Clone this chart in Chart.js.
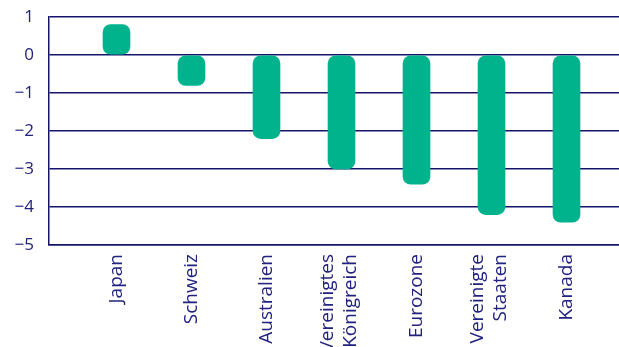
<!DOCTYPE html>
<html>
<head>
<meta charset="utf-8">
<script src="https://cdn.jsdelivr.net/npm/chart.js@4"></script>
<style>
  html, body { margin: 0; padding: 0; background: #fff; }
  #wrap { width: 619px; height: 347px; }
</style>
</head>
<body>
<div id="wrap"><canvas id="myChart" width="619" height="347"></canvas></div>
<script>
var categories = ['Japan', 'Schweiz', 'Australien', ['Vereinigtes', 'Königreich'], 'Eurozone', ['Vereinigte', 'Staaten'], 'Kanada'];
var values = [0.8, -0.8, -2.2, -3.0, -3.4, -4.2, -4.4];
var yTicks = [1, 0, -1, -2, -3, -4, -5];

var navy = '#14146a';
var textNavy = '#22227f';
var green = '#00b38d';

var points = values.map(function(v, i) { return { x: i, y: v }; });

var ctx = document.getElementById('myChart');
var myChart = new Chart(ctx, {
  type: 'bar',
  data: {
    datasets: [{
      data: points,
      backgroundColor: green,
      borderWidth: 0,
      borderRadius: 8,
      borderSkipped: false,
      barThickness: 27
    }]
  },
  options: {
    responsive: false,
    animation: false,
    layout: { padding: { top: 17, right: 0, left: 0, bottom: 0 } },
    plugins: { legend: { display: false }, tooltip: { enabled: false } },
    scales: {
      x: {
        type: 'linear',
        offset: false,
        min: -0.9,
        max: 6.7,
        grid: { display: false, drawTicks: false, offset: false },
        border: { display: true, color: navy, width: 1.5 },
        afterBuildTicks: function(axis) {
          // two-line labels stack to the right, so pull them back to centre
          axis.ticks = categories.map(function(c, i) {
            return { value: Array.isArray(c) ? i - 0.18 : i };
          });
        },
        afterFit: function(axis) {
          axis.height = 102;
          axis.paddingLeft = 0;
          axis.paddingRight = 0;
        },
        ticks: {
          autoSkip: false,
          minRotation: 90,
          maxRotation: 90,
          padding: 9,
          color: textNavy,
          font: { family: 'Open Sans', size: 19 },
          callback: function(v) { return categories[Math.round(v)]; }
        }
      },
      y: {
        min: -5,
        max: 1,
        afterBuildTicks: function(axis) {
          axis.ticks = yTicks.map(function(t) { return { value: t }; });
        },
        afterFit: function(axis) {
          axis.width = 49;
          axis.paddingTop = 0;
          axis.paddingBottom = 0;
        },
        grid: { color: navy, lineWidth: 1.5, drawTicks: false },
        border: { display: true, color: navy, width: 1.5 },
        ticks: {
          padding: 15,
          color: textNavy,
          font: { family: 'Open Sans', size: 17 },
          callback: function(v) { return String(v).replace('-', '\u2212'); }
        }
      }
    }
  }
});
</script>
</body>
</html>
